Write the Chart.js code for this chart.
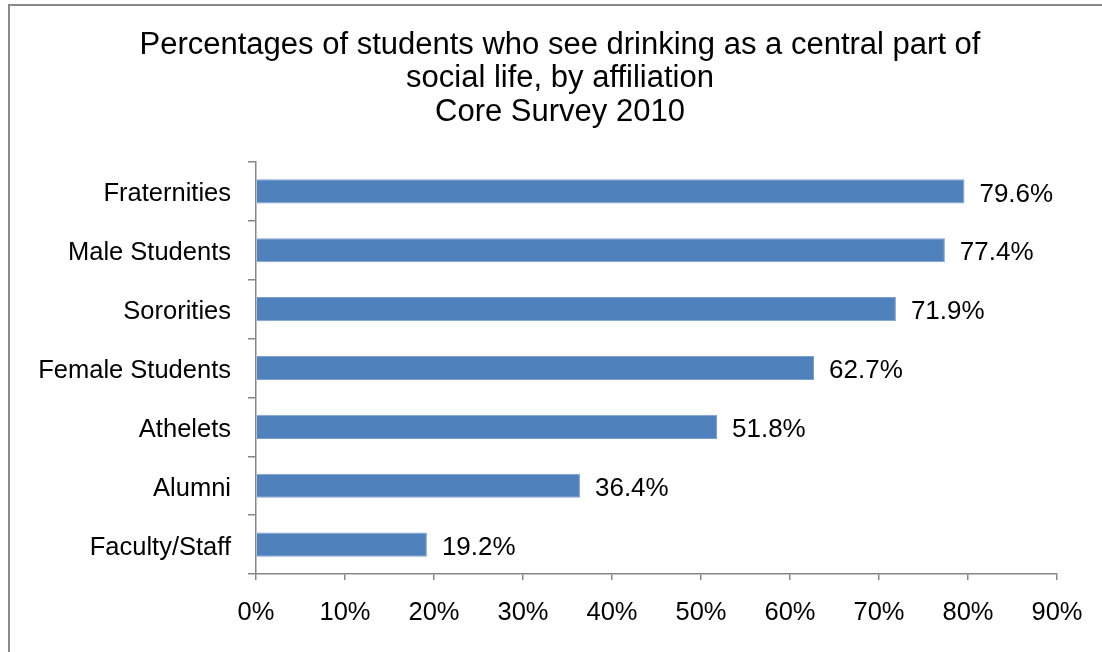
<!DOCTYPE html>
<html>
<head>
<meta charset="utf-8">
<script src="https://cdn.jsdelivr.net/npm/chart.js@4/dist/chart.umd.min.js"></script>
<style>
  html, body { margin: 0; padding: 0; background: #fff; overflow: hidden; }
  #wrap { position: relative; width: 1102px; height: 652px; overflow: hidden; }
  #frame { position: absolute; left: 8px; top: 4px; right: -10px; bottom: -10px;
           border-left: 2px solid #8a8a8a; border-top: 2px solid #8a8a8a; }
  #chart { position: absolute; left: 0; top: 0; }
</style>
</head>
<body>
<div id="wrap">
  <div id="frame"></div>
  <canvas id="chart" width="1102" height="652"></canvas>
</div>
<script>
  // Values
  const categories = ['Fraternities', 'Male Students', 'Sororities', 'Female Students', 'Athelets', 'Alumni', 'Faculty/Staff'];
  const percentages = [79.6, 77.4, 71.9, 62.7, 51.8, 36.4, 19.2];
  const titleLines = ['Percentages of students who see drinking as a central part of', 'social life, by affiliation', 'Core Survey 2010'];

  const axisGray = '#868686';
  const fontFamily = 'Arial, "Liberation Sans", sans-serif';

  // Title is centred on the outer frame, not on the plot, so draw it by hand
  const frameTitle = {
    id: 'frameTitle',
    afterDraw(chart) {
      const ctx = chart.ctx;
      ctx.save();
      ctx.font = '31px ' + fontFamily;
      ctx.fillStyle = '#000';
      ctx.textAlign = 'center';
      ctx.textBaseline = 'middle';
      titleLines.forEach((line, i) => {
        ctx.fillText(line, 560, 45 + i * 33.5);
      });
      ctx.restore();
    }
  };

  // Draw the value next to the end of each bar
  const valueLabels = {
    id: 'valueLabels',
    afterDatasetsDraw(chart) {
      const ctx = chart.ctx;
      const meta = chart.getDatasetMeta(0);
      ctx.save();
      ctx.font = '26px ' + fontFamily;
      ctx.fillStyle = '#000';
      ctx.textAlign = 'left';
      ctx.textBaseline = 'middle';
      meta.data.forEach((bar, i) => {
        ctx.fillText(percentages[i].toFixed(1) + '%', bar.x + 15, bar.y + 3);
      });
      ctx.restore();
    }
  };

  new Chart(document.getElementById('chart'), {
    type: 'bar',
    data: {
      labels: categories,
      datasets: [{
        data: percentages,
        backgroundColor: '#4F81BD',
        borderColor: '#7d9fd0',
        borderWidth: 1,
        borderSkipped: 'start',
        barPercentage: 0.41,
        categoryPercentage: 1
      }]
    },
    options: {
      indexAxis: 'y',
      responsive: false,
      animation: false,
      layout: { padding: { left: 0, right: 45, top: 162, bottom: 0 } },
      scales: {
        x: {
          min: 0,
          max: 90,
          ticks: {
            stepSize: 10,
            color: '#000',
            padding: 18,
            font: { size: 25.5, family: fontFamily },
            callback: v => v + '%'
          },
          grid: { drawOnChartArea: false, drawTicks: true, tickLength: 6, color: axisGray, lineWidth: 1.5 },
          border: { color: axisGray, width: 1.5 },
          afterFit: s => { s.height = 78; }
        },
        y: {
          ticks: {
            color: '#000',
            padding: 17,
            labelOffset: 3,
            font: { size: 25.5, family: fontFamily }
          },
          grid: { drawOnChartArea: false, drawTicks: true, tickLength: 8, color: axisGray, lineWidth: 1.5 },
          border: { color: axisGray, width: 1.5 },
          afterFit: s => { s.width = 256; }
        }
      },
      plugins: {
        legend: { display: false },
        tooltip: { enabled: false },
        title: { display: false }
      }
    },
    plugins: [valueLabels, frameTitle]
  });
</script>
</body>
</html>
